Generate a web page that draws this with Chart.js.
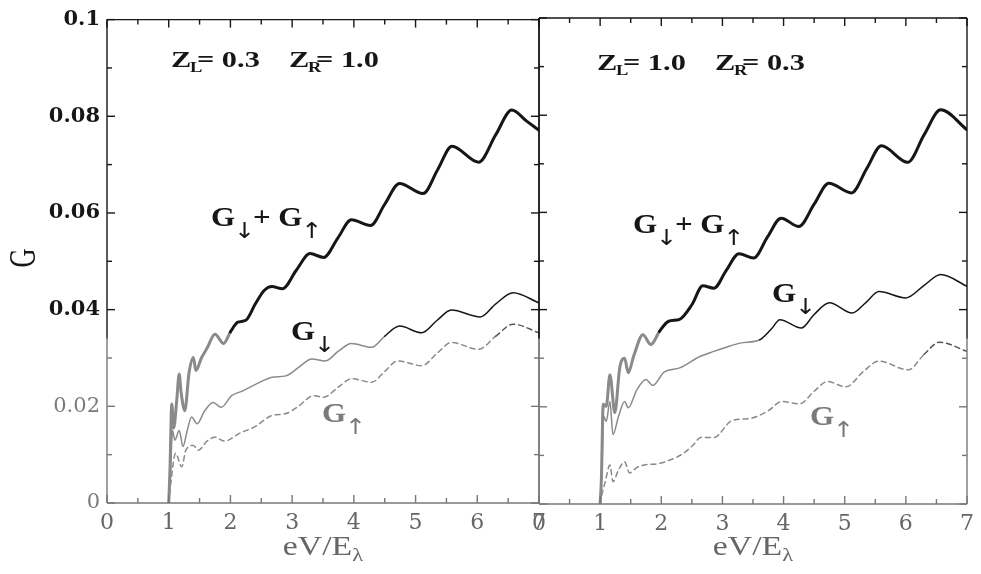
<!DOCTYPE html>
<html>
<head>
<meta charset="utf-8">
<script src="https://cdn.jsdelivr.net/npm/chart.js@4.4.0/dist/chart.umd.min.js"></script>
<style>
  body { margin: 0; background: #fff; }
  #wrap { position: relative; width: 981px; height: 574px; overflow: hidden; }
  canvas { position: absolute; top: 0; }
  #left { left: 0; }
  #right { left: 520px; }
</style>
</head>
<body>
<div id="wrap">
  <canvas id="left" width="560" height="574" style="width:560px;height:574px"></canvas>
  <canvas id="right" width="461" height="574" style="width:461px;height:574px"></canvas>
</div>
<script>
'use strict';

// axis ticks
const xTicks = [0, 1, 2, 3, 4, 5, 6, 7];
const yTicks = [0, 0.02, 0.04, 0.06, 0.08, 0.1];

// left panel, Z_L = 0.3, Z_R = 1.0
const leftSumX = [1.00, 1.02, 1.05, 1.08, 1.13, 1.17, 1.20, 1.26, 1.33, 1.40, 1.44, 1.53, 1.62, 1.75, 1.89, 2.00, 2.12, 2.25, 2.40, 2.55, 2.67, 2.84, 3.07, 3.29, 3.51, 3.74, 3.96, 4.27, 4.50, 4.74, 5.12, 5.36, 5.59, 6.02, 6.30, 6.56, 6.80, 7.00];
const leftSumY = [0, 0.0068, 0.0205, 0.0155, 0.0212, 0.0267, 0.0230, 0.0191, 0.0270, 0.0301, 0.0274, 0.0300, 0.0320, 0.0349, 0.0330, 0.0354, 0.0374, 0.0378, 0.0411, 0.0440, 0.0448, 0.0443, 0.0482, 0.0516, 0.0508, 0.0548, 0.0586, 0.0574, 0.0618, 0.0661, 0.0640, 0.0690, 0.0738, 0.0705, 0.0762, 0.0813, 0.0790, 0.0771];

const leftDownX = [1.00, 1.03, 1.06, 1.10, 1.17, 1.23, 1.30, 1.37, 1.46, 1.58, 1.72, 1.85, 2.02, 2.20, 2.40, 2.68, 2.90, 3.10, 3.32, 3.54, 3.75, 3.96, 4.29, 4.50, 4.74, 5.10, 5.35, 5.58, 6.05, 6.30, 6.58, 7.00];
const leftDownY = [0, 0.0060, 0.0150, 0.0130, 0.0150, 0.0117, 0.0150, 0.0178, 0.0164, 0.0190, 0.0208, 0.0198, 0.0222, 0.0232, 0.0245, 0.0260, 0.0263, 0.0280, 0.0298, 0.0294, 0.0314, 0.0330, 0.0322, 0.0345, 0.0366, 0.0352, 0.0378, 0.0399, 0.0385, 0.0412, 0.0435, 0.0414];

const leftUpX = [1.00, 1.04, 1.11, 1.21, 1.28, 1.40, 1.48, 1.62, 1.75, 1.90, 2.16, 2.40, 2.67, 2.90, 3.10, 3.35, 3.51, 3.75, 3.96, 4.29, 4.50, 4.71, 5.10, 5.35, 5.58, 6.02, 6.30, 6.58, 7.00];
const leftUpY = [0, 0.0047, 0.0103, 0.0075, 0.0110, 0.0119, 0.0109, 0.0128, 0.0136, 0.0128, 0.0145, 0.0158, 0.0181, 0.0185, 0.0200, 0.0222, 0.0219, 0.0240, 0.0257, 0.0250, 0.0272, 0.0294, 0.0284, 0.0310, 0.0332, 0.0318, 0.0345, 0.0370, 0.0352];

// right panel, Z_L = 1.0, Z_R = 0.3
const rightSumX = [1.00, 1.02, 1.05, 1.10, 1.16, 1.24, 1.32, 1.40, 1.46, 1.55, 1.70, 1.83, 1.97, 2.12, 2.30, 2.50, 2.68, 2.86, 3.06, 3.27, 3.51, 3.74, 3.96, 4.25, 4.50, 4.74, 5.11, 5.36, 5.60, 6.03, 6.30, 6.57, 7.00];
const rightSumY = [0, 0.0050, 0.0205, 0.0201, 0.0266, 0.0188, 0.0280, 0.0300, 0.0270, 0.0305, 0.0348, 0.0328, 0.0355, 0.0376, 0.0380, 0.0410, 0.0449, 0.0444, 0.0480, 0.0515, 0.0506, 0.0550, 0.0588, 0.0571, 0.0617, 0.0660, 0.0640, 0.0690, 0.0737, 0.0703, 0.0760, 0.0811, 0.0770];

const rightDownX = [1.00, 1.03, 1.06, 1.10, 1.16, 1.21, 1.30, 1.40, 1.46, 1.60, 1.75, 1.86, 2.05, 2.30, 2.64, 2.86, 3.05, 3.29, 3.61, 3.80, 3.94, 4.29, 4.50, 4.75, 5.12, 5.35, 5.56, 6.00, 6.30, 6.57, 7.00];
const rightDownY = [0, 0.0080, 0.0180, 0.0170, 0.0211, 0.0143, 0.0180, 0.0211, 0.0198, 0.0235, 0.0256, 0.0244, 0.0272, 0.0280, 0.0304, 0.0314, 0.0322, 0.0331, 0.0338, 0.0360, 0.0379, 0.0362, 0.0390, 0.0414, 0.0393, 0.0415, 0.0437, 0.0424, 0.0450, 0.0472, 0.0448];

const rightUpX = [1.00, 1.03, 1.08, 1.16, 1.21, 1.30, 1.40, 1.48, 1.60, 1.75, 1.90, 2.13, 2.37, 2.55, 2.64, 2.86, 3.16, 3.45, 3.75, 3.97, 4.26, 4.50, 4.72, 5.02, 5.30, 5.56, 6.04, 6.30, 6.55, 7.00];
const rightUpY = [0, 0.0020, 0.0044, 0.0080, 0.0046, 0.0070, 0.0087, 0.0064, 0.0075, 0.0081, 0.0082, 0.0090, 0.0105, 0.0125, 0.0137, 0.0137, 0.0172, 0.0176, 0.0192, 0.0211, 0.0206, 0.0232, 0.0252, 0.0241, 0.0272, 0.0294, 0.0276, 0.0308, 0.0333, 0.0314];

const SERIF = '"DejaVu Serif", "Liberation Serif", serif';
const TIMES = '"Liberation Serif", "DejaVu Serif", serif';
const ARROW = '"DejaVu Sans", sans-serif';
const GRAY = '#8a8a8a';
const DARK = '#161616';

const pts = (xs, ys) => xs.map((x, i) => ({ x: x, y: ys[i] }));
const tickVal = c => (c && c.tick ? c.tick.value : 1);

// draw a run of text pieces, some shifted down as subscripts
// part = [text, size, dy, kern, weight, family]
function rich(ctx, x, y, parts, color, stretch) {
  ctx.save();
  ctx.translate(x, y);
  ctx.scale(stretch, 1);
  let cx = 0;
  ctx.fillStyle = color;
  ctx.textBaseline = 'alphabetic';
  ctx.textAlign = 'left';
  for (const [t, size, dy, kern, weight, fam] of parts) {
    ctx.font = (weight || 'bold') + ' ' + size + 'px ' + (fam || TIMES);
    cx += kern || 0;
    ctx.fillText(t, cx, dy);
    cx += ctx.measureText(t).width;
  }
  ctx.restore();
  return cx * stretch;
}

// frame with inward ticks, axis titles and annotations
const panelDecor = {
  id: 'panelDecor',
  afterDraw(chart, args, opts) {
    const { ctx, chartArea: a, scales: { x, y } } = chart;
    const yCut = y.getPixelForValue(0.034);
    ctx.save();
    ctx.lineWidth = 1.4;

    // vertical edges: dark above yCut, grey below (scan look)
    for (const ex of [a.left, a.right]) {
      ctx.strokeStyle = DARK;
      ctx.beginPath(); ctx.moveTo(ex, a.top); ctx.lineTo(ex, yCut); ctx.stroke();
      ctx.strokeStyle = '#777';
      ctx.beginPath(); ctx.moveTo(ex, yCut); ctx.lineTo(ex, a.bottom); ctx.stroke();
    }
    ctx.strokeStyle = DARK;
    ctx.beginPath(); ctx.moveTo(a.left, a.top); ctx.lineTo(a.right, a.top); ctx.stroke();
    ctx.strokeStyle = '#777';
    ctx.beginPath(); ctx.moveTo(a.left, a.bottom); ctx.lineTo(a.right, a.bottom); ctx.stroke();

    // x ticks every 0.5, top and bottom
    for (let i = 0; i <= 14; i++) {
      const px = x.getPixelForValue(i / 2);
      const len = i % 2 ? 5 : 8;
      ctx.strokeStyle = DARK;
      ctx.beginPath(); ctx.moveTo(px, a.top); ctx.lineTo(px, a.top + len); ctx.stroke();
      ctx.strokeStyle = '#777';
      ctx.beginPath(); ctx.moveTo(px, a.bottom); ctx.lineTo(px, a.bottom - len); ctx.stroke();
    }
    // y ticks every 0.01, left and right
    for (let i = 0; i <= 10; i++) {
      const py = y.getPixelForValue(i / 100);
      const len = i % 2 ? 5 : 8;
      ctx.strokeStyle = py < yCut ? DARK : '#777';
      ctx.beginPath(); ctx.moveTo(a.left, py); ctx.lineTo(a.left + len, py); ctx.stroke();
      ctx.beginPath(); ctx.moveTo(a.right, py); ctx.lineTo(a.right - len, py); ctx.stroke();
    }

    // x axis title eV/E_lambda, centred under the panel
    const titleParts = [['eV/E', 27, 0, 0, 'normal'], ['\u03bb', 18, 6, 0, 'normal']];
    ctx.globalAlpha = 0;
    const tw = rich(ctx, 0, 0, titleParts, '#666', 1.25);
    ctx.globalAlpha = 1;
    rich(ctx, (a.left + a.right) / 2 - tw / 2, 555, titleParts, '#666', 1.25);

    // y axis title
    if (opts.yTitle) {
      ctx.save();
      ctx.translate(25, 258);
      ctx.rotate(-Math.PI / 2);
      ctx.scale(0.85, 1.2);
      ctx.font = '31px ' + TIMES;
      ctx.fillStyle = DARK;
      ctx.textAlign = 'center';
      ctx.textBaseline = 'middle';
      ctx.fillText('G', 0, 0);
      ctx.restore();
    }

    // annotations
    for (const n of opts.notes) {
      rich(ctx, n.x, n.y, n.parts, n.color || DARK, n.stretch || 1.15);
    }
    ctx.restore();
  }
};

function zParts(sub, val) {
  return [['Z', 23, 0], [sub, 14, 5, -1], ['= ' + val, 23, 0, -4]];
}
const down = ['\u2193', 22, 12, -1, 'normal', ARROW];
const up = ['\u2191', 22, 12, -1, 'normal', ARROW];
const sumParts = [['G', 27, 0], down, ['+', 27, 0, -2], [' G', 27, 0], up];
const downParts = [['G', 27, 0], down];
const upParts = [['G', 27, 0], up];

function makePanel(id, sumData, downData, upData, cfg) {
  const sumCut = 1.9;
  new Chart(document.getElementById(id), {
    type: 'line',
    data: {
      datasets: [
        {
          label: 'G\u2191',
          data: upData,
          borderColor: GRAY,
          borderWidth: 1.5,
          borderDash: [5, 4],
          segment: { borderColor: c => c.p0.parsed.x >= 6.3 ? '#555' : GRAY }
        },
        {
          label: 'G\u2193',
          data: downData,
          borderColor: GRAY,
          borderWidth: 1.5,
          segment: { borderColor: c => c.p0.parsed.x >= cfg.downCut ? DARK : GRAY }
        },
        {
          label: 'G\u2193 + G\u2191',
          data: sumData,
          borderColor: DARK,
          borderWidth: 3,
          segment: { borderColor: c => c.p0.parsed.x >= sumCut ? DARK : GRAY }
        }
      ]
    },
    options: {
      responsive: false,
      animation: false,
      parsing: false,
      elements: {
        point: { radius: 0 },
        line: { cubicInterpolationMode: 'monotone', borderCapStyle: 'round', borderJoinStyle: 'round' }
      },
      layout: { padding: { top: cfg.top, right: cfg.right, left: 0, bottom: 0 } },
      plugins: {
        legend: { display: false },
        tooltip: { enabled: false },
        panelDecor: { yTitle: cfg.yTitle, notes: cfg.notes }
      },
      scales: {
        x: {
          type: 'linear',
          min: 0,
          max: 7,
          afterBuildTicks: s => { s.ticks = xTicks.map(v => ({ value: v })); },
          afterFit: s => { s.height = cfg.xHeight; },
          grid: { display: false, drawTicks: false },
          border: { display: false },
          ticks: {
            padding: 7,
            color: '#666',
            font: { family: SERIF, size: 22 },
            callback: v => String(v)
          }
        },
        y: {
          type: 'linear',
          min: 0,
          max: 0.1,
          afterBuildTicks: s => { s.ticks = yTicks.map(v => ({ value: v })); },
          afterFit: s => { s.width = cfg.yWidth; },
          grid: { display: false, drawTicks: false },
          border: { display: false },
          ticks: {
            display: cfg.yLabels,
            padding: 7,
            color: c => tickVal(c) >= 0.03 ? DARK : '#7a7a7a',
            font: c => ({ family: SERIF, size: 21, weight: tickVal(c) >= 0.03 ? 'bold' : 'normal' }),
            callback: v => String(+v.toFixed(2))
          }
        }
      }
    },
    plugins: [panelDecor]
  });
}

makePanel('left', pts(leftSumX, leftSumY), pts(leftDownX, leftDownY), pts(leftUpX, leftUpY), {
  top: 17, right: 21, xHeight: 71, yWidth: 107, yLabels: true, yTitle: true, downCut: 4.4,
  notes: [
    { x: 171, y: 67, parts: zParts('L', '0.3'), stretch: 1.32 },
    { x: 289, y: 67, parts: zParts('R', '1.0'), stretch: 1.32 },
    { x: 211, y: 226, parts: sumParts },
    { x: 291, y: 340, parts: downParts },
    { x: 322, y: 422, parts: upParts, color: '#7a7a7a' }
  ]
});

makePanel('right', pts(rightSumX, rightSumY), pts(rightDownX, rightDownY), pts(rightUpX, rightUpY), {
  top: 18, right: 8, xHeight: 70, yWidth: 19, yLabels: false, yTitle: false, downCut: 3.6,
  notes: [
    { x: 597 - 520, y: 70, parts: zParts('L', '1.0'), stretch: 1.32 },
    { x: 715 - 520, y: 70, parts: zParts('R', '0.3'), stretch: 1.32 },
    { x: 633 - 520, y: 233, parts: sumParts },
    { x: 772 - 520, y: 302, parts: downParts },
    { x: 810 - 520, y: 425, parts: upParts, color: '#7a7a7a' }
  ]
});
</script>
</body>
</html>
